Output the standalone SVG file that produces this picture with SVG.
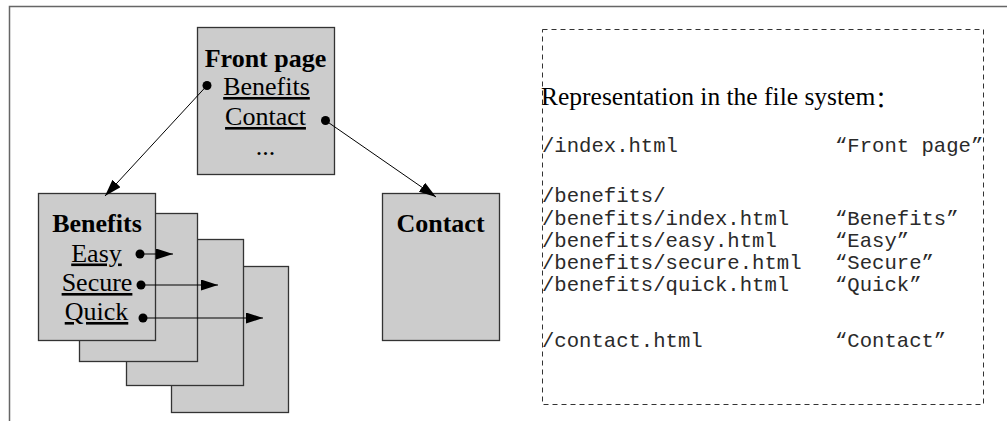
<svg xmlns="http://www.w3.org/2000/svg" width="1007" height="421" viewBox="0 0 1007 421">
  <style>
    .page { fill: #cccccc; stroke: #333333; stroke-width: 1.3; }
    .title { font-family: "Liberation Serif", "Times New Roman", serif; font-weight: bold; font-size: 26px; fill: #000; text-anchor: middle; }
    .link { font-family: "Liberation Serif", "Times New Roman", serif; font-size: 26px; fill: #000; text-anchor: middle; text-decoration: underline; }
    .plain { font-family: "Liberation Serif", "Times New Roman", serif; font-size: 26px; fill: #000; text-anchor: middle; }
    .dot { fill: #000; }
    .conn { stroke: #000; stroke-width: 1; fill: none; marker-end: url(#arrow); }
    .mono { font-family: "Liberation Mono", "Courier New", monospace; font-size: 20.6px; fill: #2a2a2a; }
    .head { font-family: "Liberation Serif", "Times New Roman", "Noto Sans CJK SC", serif; font-size: 25.5px; fill: #000; }
    .colon { font-family: "Noto Sans CJK SC", sans-serif; font-size: 23px; }
  </style>
  <defs>
    <marker id="arrow" markerUnits="userSpaceOnUse" markerWidth="18" markerHeight="12" refX="17" refY="5.5" orient="auto">
      <path d="M0,0 L17,5.5 L0,11 z" fill="#000"/>
    </marker>
  </defs>
  <rect x="0" y="0" width="1007" height="421" fill="#fff"/>
  <g id="frame">
    <path d="M9.5,430 L9.5,6.5 L1010,6.5" fill="none" stroke="#666" stroke-width="1.5"/>
  </g>

  <g id="page-quick">
    <rect class="page" x="171.5" y="266.5" width="117" height="146"/>
  </g>
  <g id="page-secure">
    <rect class="page" x="126.5" y="239.5" width="117" height="146"/>
  </g>
  <g id="page-easy">
    <rect class="page" x="79.5" y="213.5" width="118" height="148"/>
  </g>
  <g id="benefits">
    <rect class="page" x="38.5" y="193.5" width="117" height="147"/>
    <text class="title" x="97" y="232">Benefits</text>
    <text class="link" x="96.5" y="261.5">Easy</text>
    <text class="link" x="97" y="291">Secure</text>
    <text class="link" x="96.5" y="320">Quick</text>
    <circle class="dot" cx="140" cy="254" r="4.5"/>
    <circle class="dot" cx="141" cy="285" r="4.5"/>
    <circle class="dot" cx="143" cy="318" r="4.5"/>
  </g>

  <g id="front-page">
    <rect class="page" x="197.5" y="27.5" width="137" height="147"/>
    <text class="title" x="265.5" y="66.5">Front page</text>
    <text class="link" x="266.5" y="95">Benefits</text>
    <text class="link" x="265.5" y="125">Contact</text>
    <text class="plain" x="265.5" y="155">...</text>
    <circle class="dot" cx="207" cy="85.5" r="4.5"/>
    <circle class="dot" cx="325.5" cy="120.5" r="4.5"/>
  </g>

  <g id="contact">
    <rect class="page" x="382.5" y="193.5" width="117" height="147"/>
    <text class="title" x="440.5" y="232">Contact</text>
  </g>

  <g id="connectors">
    <line class="conn" x1="207" y1="85.5" x2="105" y2="196"/>
    <line class="conn" x1="325.5" y1="120.5" x2="436" y2="197"/>
    <line class="conn" x1="140" y1="254" x2="173" y2="254"/>
    <line class="conn" x1="141" y1="285" x2="218" y2="285"/>
    <line class="conn" x1="143" y1="318" x2="263" y2="318"/>
  </g>

  <g id="file-system">
    <rect x="542.5" y="29.5" width="441" height="375" fill="none" stroke="#333" stroke-width="1" stroke-dasharray="5,4"/>
    <text class="head" x="541" y="105">Representation in the file system<tspan class="colon" dy="2">：</tspan></text>
    <text class="mono" x="542" y="152">/index.html</text>
    <text class="mono" x="835" y="152">“Front page”</text>
    <text class="mono" x="542" y="202">/benefits/</text>
    <text class="mono" x="542" y="225">/benefits/index.html</text>
    <text class="mono" x="835" y="225">“Benefits”</text>
    <text class="mono" x="542" y="247">/benefits/easy.html</text>
    <text class="mono" x="835" y="247">“Easy”</text>
    <text class="mono" x="542" y="269">/benefits/secure.html</text>
    <text class="mono" x="835" y="269">“Secure”</text>
    <text class="mono" x="542" y="291">/benefits/quick.html</text>
    <text class="mono" x="835" y="291">“Quick”</text>
    <text class="mono" x="542" y="347">/contact.html</text>
    <text class="mono" x="835" y="347">“Contact”</text>
  </g>
</svg>
